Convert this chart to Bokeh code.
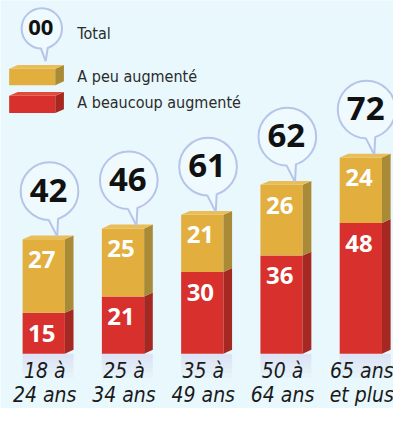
from bokeh.plotting import figure
from bokeh.models import Range1d
from bokeh.core.properties import value
from bokeh.embed import file_html
from bokeh.resources import INLINE

# ---------------- data ----------------
categories = ["18 à\n24 ans", "25 à\n34 ans", "35 à\n49 ans", "50 à\n64 ans", "65 ans\net plus"]
beaucoup = [15, 21, 30, 36, 48]          # A beaucoup augmenté (red)
peu = [27, 25, 21, 26, 24]               # A peu augmenté (gold)
totals = [42, 46, 61, 62, 72]            # Total (bubbles)
legend_labels = ["Total", "A peu augmenté", "A beaucoup augmenté"]
legend_bubble_text = "00"

# ---------------- layout helpers ----------------
W, H = 393, 408
REF_W, REF_H = 409, 424
XS = -0.5455
XE = XS + REF_W / 82.5
YE = 367 / 2.83
YS = YE - REF_H / 2.83
K = W / REF_W


def ux(px):
    return px * (XE - XS) / REF_W


def uy(px):
    return px * (YE - YS) / REF_H


def rx(X):
    return XS + ux(X)


def ry(Y):
    return YE - uy(Y)


BG = "#e8f8fc"
GOLD, GOLD_TOP, GOLD_SIDE = "#e2ae3e", "#eabd56", "#a98a36"
RED, RED_TOP, RED_SIDE = "#d8302c", "#e24a3b", "#a62822"
BUB_LINE = "#b7c4e9"
BUB_FILL = "#eefafd"
NUM_FONT = value("Open Sans")
COND_FONT = value("DejaVu Sans Condensed, Roboto")

p = figure(width=W, height=H, x_range=Range1d(XS, XE), y_range=Range1d(YS, YE),
           output_backend="svg", toolbar_location=None, min_border=0,
           x_axis_type=None, y_axis_type=None)
p.grid.visible = False
p.outline_line_color = None
p.background_fill_color = BG
p.border_fill_color = BG

HW = ux(22)
DX = ux(9)
DY = uy(4)
idx = list(range(len(categories)))
tops = [b + q for b, q in zip(beaucoup, peu)]

# reflection under bars
for k in range(5):
    p.quad(left=[i - HW for i in idx], right=[i + HW + DX for i in idx],
           top=[-uy(5 * k)] * len(idx), bottom=[-uy(5 * (k + 1))] * len(idx),
           fill_color="#d6d3ee", fill_alpha=0.6 - 0.12 * k, line_color=None)


def brick(x0, x1, y0, y1, front, top, side, draw_top=True):
    p.quad(left=x0, right=x1, bottom=y0, top=y1, fill_color=front, line_color=None)
    p.patches(xs=[[a, a + DX, a + DX, a] for a in x1],
              ys=[[b0, b0 + DY, b1 + DY, b1] for b0, b1 in zip(y0, y1)],
              fill_color=side, line_color=None)
    if draw_top:
        p.patches(xs=[[a, a + DX, b + DX, b] for a, b in zip(x0, x1)],
                  ys=[[t, t + DY, t + DY, t] for t in y1],
                  fill_color=top, line_color=None)


left = [i - HW for i in idx]
right = [i + HW for i in idx]
brick(left, right, [0] * len(idx), beaucoup, RED, RED_TOP, RED_SIDE, draw_top=False)
brick(left, right, beaucoup, tops, GOLD, GOLD_TOP, GOLD_SIDE)

# value labels
lab_style = dict(text_font=NUM_FONT, text_font_style="bold", text_font_size=f"{round(25 * K)}px",
                 text_color="white", text_align="center", text_baseline="middle")
p.text(x=[i - ux(2) for i in idx], y=[b - uy(21) for b in beaucoup],
       text=[str(v) for v in beaucoup], **lab_style)
p.text(x=[i - ux(2) for i in idx], y=[t - uy(21) for t in tops],
       text=[str(v) for v in peu], **lab_style)


def bubbles(cxs, cys, r_px, tips, texts, fsize):
    p.scatter(x=cxs, y=cys, size=2 * r_px * K, marker="circle",
              fill_color=BUB_FILL, line_color=BUB_LINE, line_width=2)
    las = [(cx - ux(1), cy - uy(r_px - 0.5)) for cx, cy in zip(cxs, cys)]
    ras = [(cx + ux(0.3 * r_px), cy - uy(0.95 * r_px - 0.5)) for cx, cy in zip(cxs, cys)]
    inner = [(cx + ux(4), cy - uy(0.6 * r_px)) for cx, cy in zip(cxs, cys)]
    p.patches(xs=[[la[0], tp[0], ra[0], inn[0]] for la, tp, ra, inn in zip(las, tips, ras, inner)],
              ys=[[la[1], tp[1], ra[1], inn[1]] for la, tp, ra, inn in zip(las, tips, ras, inner)],
              fill_color=BUB_FILL, line_color=None)
    p.multi_line(xs=[[la[0], tp[0]] for la, tp in zip(las, tips)] + [[ra[0], tp[0]] for ra, tp in zip(ras, tips)],
                 ys=[[la[1], tp[1]] for la, tp in zip(las, tips)] + [[ra[1], tp[1]] for ra, tp in zip(ras, tips)],
                 line_color=BUB_LINE, line_width=2)
    p.text(x=[cx - ux(1) for cx in cxs], y=[cy + uy(1) for cy in cys], text=texts,
           text_font=NUM_FONT, text_font_style="bold", text_font_size=f"{round(fsize * K)}px",
           text_color="#111111", text_align="center", text_baseline="middle")


# total bubbles
cxs = [i + ux(6) for i in idx]
cys = [t + uy(50) for t in tops]
tips = [(i + ux(14), t + uy(3)) for i, t in zip(idx, tops)]
bubbles(cxs, cys, 30, tips, [str(v) for v in totals], 34)

# category labels (two lines each)
line1 = [c.split("\n")[0] for c in categories]
line2 = [c.split("\n")[1] for c in categories]
cat_style = dict(text_font=COND_FONT, text_font_style="italic", text_font_size=f"{round(22 * K)}px",
                 text_color="#1a1a1a", text_align="center", text_baseline="middle")
p.text(x=[i + ux(1) for i in idx], y=[ry(385)] * len(idx), text=line1, **cat_style)
p.text(x=[i + ux(1) for i in idx], y=[ry(410)] * len(idx), text=line2, **cat_style)

# ---------------- legend ----------------
bubbles([rx(43)], [ry(29)], 21, [(rx(47), ry(63))], [legend_bubble_text], 23)
brick([rx(9)], [rx(57)], [ry(88)], [ry(71)], GOLD, GOLD_TOP, GOLD_SIDE)
brick([rx(9)], [rx(57)], [ry(117)], [ry(99)], RED, RED_TOP, RED_SIDE)
p.text(x=[rx(80)] * 3, y=[ry(34), ry(79), ry(106)], text=legend_labels,
       text_font=COND_FONT, text_font_size=f"{round(17 * K)}px", text_color="#2b2b2b",
       text_align="left", text_baseline="middle")

open("out.html", "w").write(file_html(p, INLINE))
